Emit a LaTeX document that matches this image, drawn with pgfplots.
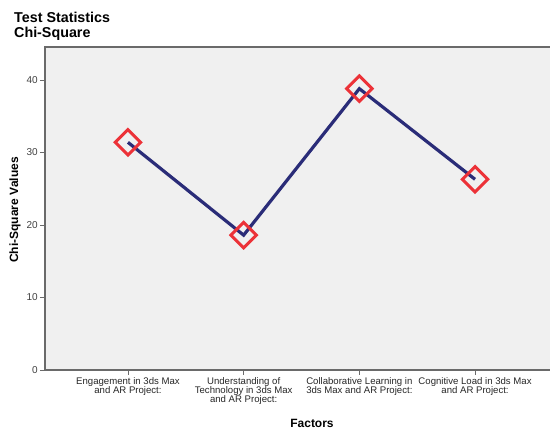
\documentclass[border=0pt]{standalone}
\usepackage{fontspec}
\setmainfont{Liberation Sans}
\usepackage{pgfplots}
\pgfplotsset{compat=1.18}
\definecolor{bgc}{HTML}{F0F0F0}
\definecolor{navy}{RGB}{42,44,120}
\definecolor{mred}{RGB}{236,50,56}
\definecolor{frame}{HTML}{6A6A6A}
\begin{document}
\begin{tikzpicture}
\path[use as bounding box] (0pt,0pt) rectangle (550pt,429pt);
\node[anchor=north west, align=left, font=\fontsize{14.3}{15}\selectfont\bfseries, inner sep=0] at (14pt,417pt) {Test Statistics\\Chi-Square};
\node[rotate=90, font=\fontsize{12}{12}\selectfont\bfseries] at (15pt,219pt) {Chi-Square Values};
\node[font=\fontsize{12}{12}\selectfont\bfseries] at (312pt,6pt) {Factors};
\begin{axis}[
  at={(45pt,59pt)}, anchor=south west,
  scale only axis, width=510pt, height=323pt,
  xmin=-0.717, xmax=3.691, ymin=0, ymax=44.55,
  axis background/.style={fill=bgc},
  axis line style={frame, line width=1.3pt},
  tick style={frame, line width=0.8pt},
  tick align=outside, major tick length=5pt,
  xtick pos=lower, ytick pos=left,
  ytick={0,10,20,30,40},
  xtick={0,1,2,3},
  xticklabels={{Engagement in 3ds Max\\and AR Project:},{Understanding of\\Technology in 3ds Max\\and AR Project:},{Collaborative Learning in\\3ds Max and AR Project:},{Cognitive Load in 3ds Max\\and AR Project:}},
  xticklabel style={align=center, font=\fontsize{9.6}{9}\selectfont, text=black!85, inner sep=1pt, yshift=-1pt},
  yticklabel style={font=\fontsize{10}{10}\selectfont, text=black!75, inner sep=2pt},
  /pgf/number format/assume math mode=true,
  clip=false,
]
\addplot[navy, line width=3.2pt, mark=square, mark size=9pt, mark options={draw=mred, fill=none, line width=3pt, solid, rotate=45}] coordinates {(0,31.4)(1,18.6)(2,38.8)(3,26.3)};
\end{axis}
\end{tikzpicture}
\end{document}
